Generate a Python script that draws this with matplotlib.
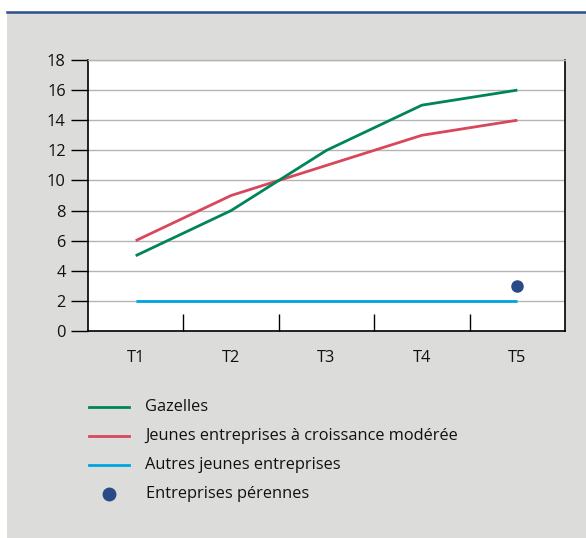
import matplotlib
matplotlib.use("Agg")
import matplotlib.pyplot as plt
from matplotlib.patches import Rectangle
from matplotlib.lines import Line2D

plt.rcParams['font.family'] = ['Open Sans', 'DejaVu Sans']

# Data
periods = ["T1", "T2", "T3", "T4", "T5"]
gazelles = [5, 8, 12, 15, 16]
moderate = [6, 9, 11, 13, 14]
others = [2, 2, 2, 2, 2]
perennial_period = "T5"
perennial_value = 3

labels = ["Gazelles",
          "Jeunes entreprises à croissance modérée",
          "Autres jeunes entreprises",
          "Entreprises pérennes"]
colors = ["#00845a", "#d8475b", "#00a3e0", "#2a4a86"]

W, H = 586, 538
FS = 11.8
fig = plt.figure(figsize=(W / 100, H / 100), dpi=100)
fig.patch.set_facecolor("white")

# grey panel with blue rule on top
fig.patches.append(Rectangle((7 / W, 0), 1 - 7 / W, 1 - 12 / H,
                             transform=fig.transFigure, facecolor="#dcdcdb",
                             edgecolor="none", zorder=-2))
fig.lines.append(Line2D([7 / W, 1], [1 - 12 / H, 1 - 12 / H],
                        transform=fig.transFigure, color="#2b4f8c", lw=1.8,
                        zorder=-1))

left, right, top, bottom = 88, 565, 60, 331
ax = fig.add_axes([left / W, 1 - bottom / H, (right - left) / W, (bottom - top) / H])
ax.set_facecolor("white")

x = list(range(len(periods)))
ax.plot(x, others, color=colors[2], lw=2, solid_capstyle="butt", zorder=3)
ax.plot(x, moderate, color=colors[1], lw=2, solid_capstyle="butt", zorder=4)
ax.plot(x, gazelles, color=colors[0], lw=2, solid_capstyle="butt", zorder=5)
ax.plot([periods.index(perennial_period)], [perennial_value], "o",
        color=colors[3], ms=8, zorder=6)

ax.set_xlim(-0.5, len(periods) - 0.5)
ax.set_ylim(0, 18)
ax.set_yticks(range(0, 19, 2))
ax.yaxis.grid(True, color="#b4b4b4", lw=1)
ax.set_axisbelow(True)
ax.tick_params(axis="y", length=12, width=1, color="black", labelsize=FS,
               pad=4, labelcolor="#111111")

ax.set_xticks(x)
ax.set_xticklabels(periods)
ax.set_xticks([i + 0.5 for i in x[:-1]], minor=True)
ax.tick_params(axis="x", which="major", length=0, pad=14, labelsize=FS,
               labelcolor="#111111")
ax.tick_params(axis="x", which="minor", direction="in", length=12, width=1,
               color="black")

for side in ["left", "bottom", "right"]:
    ax.spines[side].set_color("black")
    ax.spines[side].set_linewidth(1.2)
ax.spines["top"].set_color("#b4b4b4")
ax.spines["top"].set_linewidth(1)

# Legend drawn in figure pixel coordinates
rows = [407, 436, 465, 494]
for i, (lab, col) in enumerate(zip(labels, colors)):
    yy = 1 - rows[i] / H
    if i < 3:
        fig.lines.append(Line2D([89 / W, 129 / W], [yy, yy], transform=fig.transFigure,
                                color=col, lw=2))
    else:
        fig.lines.append(Line2D([109 / W], [yy], transform=fig.transFigure,
                                color=col, marker="o", ms=9, lw=0))
    tx = 145 if i < 3 else 146
    fig.text(tx / W, yy, lab, fontsize=FS, va="center", ha="left", color="#111111")

fig.savefig("out.png", dpi=100)
